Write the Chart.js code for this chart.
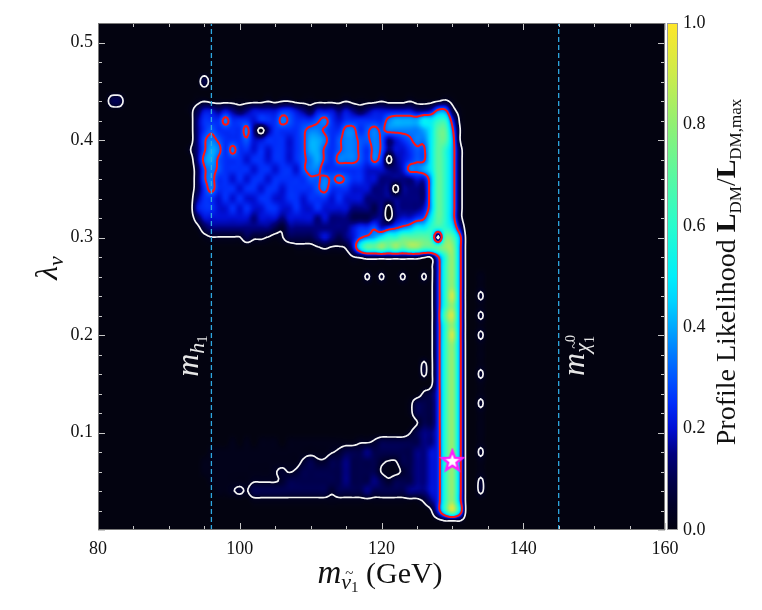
<!DOCTYPE html>
<html>
<head>
<meta charset="utf-8">
<title>Profile likelihood</title>
<script src="https://cdn.jsdelivr.net/npm/chart.js@4.4.1/dist/chart.umd.min.js"></script>
<style>
  html, body { margin: 0; padding: 0; background: #fff; }
  canvas { display: block; }
</style>
</head>
<body>
<canvas id="plot" width="762" height="610"></canvas>
<script>
// ---- axes ----
const xRange = [80, 160];
const yRange = [0, 0.52];
const xTicks = [80, 100, 120, 140, 160];
const yTicks = [0.1, 0.2, 0.3, 0.4, 0.5];
const xMinorStep = 5;
const yMinorStep = 0.02;
const cbarTicks = [0.0, 0.2, 0.4, 0.6, 0.8, 1.0];

// ---- likelihood map ----
// columns: 80, 81, ... 140 GeV (rest is zero), rows: lambda = 0.52 down to 0.00
const gridX0 = 80, gridDx = 1, gridDy = 0.01;
const levelKeys = '0123456789abcdef';
const levelValues = [0, 0.02, 0.04, 0.06, 0.10, 0.15, 0.20, 0.25, 0.30, 0.35, 0.40, 0.50, 0.60, 0.70, 0.80, 0.90];
const likelihoodRows = [
  '0000000000 0000000000 0000000000 0000000000 0000000000 0000000000 0', // 0.52
  '0000000000 0000000000 0000000000 0000000000 0000000000 0000000000 0',
  '0000000000 0000000000 0000000000 0000000000 0000000000 0000000000 0', // 0.50
  '0000000000 0000000000 0000000000 0000000000 0000000000 0000000000 0',
  '0000000000 0000000000 0000000000 0000000000 0000000000 0000000000 0',
  '0000000000 0000000000 0000000000 0000000000 0000000000 0000000000 0',
  '0000000000 0000040000 0000000000 0000000000 0000000000 0000000000 0', // 0.46
  '0000000000 0000000000 0000000000 0000000000 0000000000 0000000000 0',
  '0044000000 0000121111 1111212211 1111121111 2111211123 1000000000 0', // 0.44
  '0000000000 0001466565 4566667765 4666565456 6666655699 4100000000 0',
  '0000000000 0000577797 7767779877 7897677777 79aaaabbcc 7200000000 0', // 0.42
  '0000000000 0000578777 7950577778 9987799789 899999abdd 9300000000 0',
  '0000000000 0000589877 7866777678 aa97899889 8567899bdd a300000000 0', // 0.40
  '0000000000 000258a979 7767677678 aa87899879 8566788bdc a400000000 0',
  '0000000000 000059a877 7677677678 9a87999879 7056788bdc a400000000 0', // 0.38
  '0000000000 0000489877 7767767768 9977777766 655699abdc a400000000 0',
  '0000000000 0000489776 7677677777 8898987766 5555566adc a400000000 0', // 0.36
  '0000000000 0000479777 6776776777 7897776665 5505555adc a400000000 0',
  '0000000000 0000577676 7667766776 7776766655 5555555adc a400000000 0', // 0.34
  '0000000000 0000677667 6766776676 6766665554 5055556adc a400000000 0',
  '0000000000 0000466666 6656665666 6565554445 5056678bdc a400000000 0', // 0.32
  '0000000000 0000145555 5555543555 5555556778 6789abbccc b600000000 0',
  '0000000000 0000012222 2433212444 456545689a bccddddc0d da00000000 0', // 0.30
  '0000000000 0000000000 0000000011 1232236bdd ededeeddde ea00000000 0',
  '0000000000 0000000000 0000000000 0000002344 444444338c ea00000000 0', // 0.28
  '0000000000 0000000000 0000000000 0000000000 000000017c ea00000000 0',
  '0000000000 0000000000 0000000000 0000000030 300300317c ea00100000 0', // 0.26
  '0000000000 0000000000 0000000000 0000000000 000000017c ea00100000 0',
  '0000000000 0000000000 0000000000 0000000000 000000017c fa00300000 0', // 0.24
  '0000000000 0000000000 0000000000 0000000000 000000017c ea00100000 0',
  '0000000000 0000000000 0000000000 0000000000 000000017d fa00300000 0', // 0.22
  '0000000000 0000000000 0000000000 0000000000 000000017c ea00100000 0',
  '0000000000 0000000000 0000000000 0000000000 000000017c fa00300000 0', // 0.20
  '0000000000 0000000000 0000000000 0000000000 000000017c ea00100000 0',
  '0000000000 0000000000 0000000000 0000000000 000000017c ea00100000 0', // 0.18
  '0000000000 0000000000 0000000000 0000000000 000000317c ea00100000 0',
  '0000000000 0000000000 0000000000 0000000000 000000317c ea00300000 0', // 0.16
  '0000000000 0000000000 0000000000 0000000000 000000017c ea00100000 0',
  '0000000000 0000000000 0000000000 0000000000 000000347c ea00100000 0', // 0.14
  '0000000000 0000000000 0000000000 0000000000 000014447c ea00300000 0',
  '0000000000 0000000000 0000000000 0000000000 000014447c ea00100000 0', // 0.12
  '0000000000 0000000000 0000000000 0000000000 000002447c ea00100000 0',
  '0000000000 0000000000 0000000000 0000000000 000024557c ea00100000 0', // 0.10
  '0000000000 0000000001 0101110111 1111111223 444444557c ea00100000 0',
  '0000000000 0000001111 1111111111 1112344454 444445567c ea00300000 0', // 0.08
  '0000000000 0000011111 1111111113 4334454444 322445567c ea00100000 0',
  '0000000000 0000011111 1111123234 4444454444 211345567c ea00100000 0', // 0.06
  '0000000000 0000001111 1122223444 4444454445 434445567c ea00300000 0',
  '0000000000 0000000112 3244444444 4443444454 444455567c ea00300000 0', // 0.04
  '0000000000 0000000000 0011111111 1111111111 111111357c ea00000000 0',
  '0000000000 0000000000 0000000000 0000000000 000000027c fb00000000 0', // 0.02
  '0000000000 0000000000 0000000000 0000000000 0000000013 3300000000 0',
  '0000000000 0000000000 0000000000 0000000000 0000000000 0000000000 0'  // 0.00
];

const contourLevels = [0.0455, 0.3166];   // 2 sigma (white), 1 sigma (red)
const markerMasses = [96, 145];            // m_h1 and m_chi1
const bestFit = [{ x: 130, y: 0.071 }];

// ---- build grid (row 0 = lambda 0) ----
const nCols = Math.round((xRange[1] - xRange[0]) / gridDx) + 1;
const grid = likelihoodRows.slice().reverse().map(r => {
  const s = r.replace(/ /g, '').padEnd(nCols, '0');
  return Array.from(s, ch => levelValues[levelKeys.indexOf(ch)]);
});
const nRows = grid.length;

// smooth display grid: Catmull-Rom resampling of the read-off grid
const SUB = 4;
function crWeights(t) {
  const t2 = t * t, t3 = t2 * t;
  return [(-t3 + 2 * t2 - t) / 2, (3 * t3 - 5 * t2 + 2) / 2, (-3 * t3 + 4 * t2 + t) / 2, (t3 - t2) / 2];
}
const cell = (j, i) => grid[Math.max(0, Math.min(nRows - 1, j))][Math.max(0, Math.min(nCols - 1, i))];
const fCols = (nCols - 1) * SUB + 1, fRows = (nRows - 1) * SUB + 1;
const fine = [];
for (let fj = 0; fj < fRows; fj++) {
  const j = Math.floor(fj / SUB), ty = (fj % SUB) / SUB, wy = crWeights(ty);
  const row = new Float32Array(fCols);
  for (let fi = 0; fi < fCols; fi++) {
    const i = Math.floor(fi / SUB), tx = (fi % SUB) / SUB, wx = crWeights(tx);
    let s = 0;
    for (let m = 0; m < 4; m++) {
      let r = 0;
      for (let n = 0; n < 4; n++) r += wx[n] * cell(j - 1 + m, i - 1 + n);
      s += wy[m] * r;
    }
    row[fi] = Math.max(0, Math.min(1, s));
  }
  fine.push(row);
}
const fDx = gridDx / SUB, fDy = gridDy / SUB;

function sample(xv, yv) {
  let fx = (xv - gridX0) / fDx, fy = yv / fDy;
  fx = Math.max(0, Math.min(fCols - 1.0001, fx));
  fy = Math.max(0, Math.min(fRows - 1.0001, fy));
  const i = Math.floor(fx), j = Math.floor(fy), tx = fx - i, ty = fy - j;
  const a = fine[j][i], b = fine[j][i + 1], c = fine[j + 1][i], d = fine[j + 1][i + 1];
  return (a * (1 - tx) + b * tx) * (1 - ty) + (c * (1 - tx) + d * tx) * ty;
}

// colour map, black -> blue -> cyan -> green -> yellow
const cmap = [
  [0.00, [3, 3, 16]], [0.05, [0, 0, 40]], [0.10, [0, 0, 76]], [0.15, [0, 0, 126]],
  [0.20, [0, 15, 212]], [0.25, [0, 45, 250]], [0.30, [0, 85, 255]], [0.35, [0, 125, 255]],
  [0.40, [0, 168, 255]], [0.45, [0, 210, 255]], [0.50, [0, 238, 250]], [0.60, [40, 252, 205]],
  [0.70, [90, 248, 160]], [0.80, [145, 240, 115]], [0.90, [205, 235, 75]], [1.00, [255, 230, 40]]
];
function colorAt(v) {
  v = Math.max(0, Math.min(1, v));
  for (let k = 1; k < cmap.length; k++) {
    if (v <= cmap[k][0]) {
      const [v0, c0] = cmap[k - 1], [v1, c1] = cmap[k];
      const t = (v - v0) / (v1 - v0);
      return [0, 1, 2].map(n => Math.round(c0[n] + t * (c1[n] - c0[n])));
    }
  }
  return cmap[cmap.length - 1][1];
}

// marching squares on the display grid
function contourSegments(level) {
  const segs = [];
  for (let j = 0; j < fRows - 1; j++) {
    for (let i = 0; i < fCols - 1; i++) {
      const v = [fine[j][i], fine[j][i + 1], fine[j + 1][i + 1], fine[j + 1][i]];
      const p = [[i, j], [i + 1, j], [i + 1, j + 1], [i, j + 1]];
      const cross = [];
      for (let e = 0; e < 4; e++) {
        const a = v[e], b = v[(e + 1) % 4];
        if ((a < level) !== (b < level)) {
          const t = (level - a) / (b - a), q0 = p[e], q1 = p[(e + 1) % 4];
          cross.push([q0[0] + t * (q1[0] - q0[0]), q0[1] + t * (q1[1] - q0[1])]);
        }
      }
      if (cross.length === 2) segs.push(cross);
      else if (cross.length === 4) {
        const centre = (v[0] + v[1] + v[2] + v[3]) / 4;
        if ((centre < level) === (v[0] < level)) { segs.push([cross[0], cross[1]], [cross[2], cross[3]]); }
        else { segs.push([cross[3], cross[0]], [cross[1], cross[2]]); }
      }
    }
  }
  return segs;
}

const SERIF = '"Liberation Serif", "DejaVu Serif", serif';

// parts: [text, font, dy, noAdvance, dx]
function mathText(ctx, parts, cx, cy, rotate, color) {
  ctx.save();
  ctx.translate(cx, cy);
  if (rotate) ctx.rotate(-Math.PI / 2);
  ctx.fillStyle = color;
  ctx.textBaseline = 'alphabetic';
  ctx.textAlign = 'left';
  let w = 0;
  parts.forEach(p => { ctx.font = p[1]; if (!p[3]) w += ctx.measureText(p[0]).width; });
  let x = -w / 2;
  parts.forEach(p => {
    ctx.font = p[1];
    ctx.fillText(p[0], x + (p[4] || 0), p[2]);
    if (!p[3]) x += ctx.measureText(p[0]).width;
  });
  ctx.restore();
}

function makeStar() {
  const c = document.createElement('canvas');
  c.width = 26; c.height = 26;
  const g = c.getContext('2d');
  g.beginPath();
  for (let k = 0; k < 10; k++) {
    const r = k % 2 ? 4.4 : 10.5;
    const ang = -Math.PI / 2 + k * Math.PI / 5;
    g.lineTo(13 + r * Math.cos(ang), 13.5 + r * Math.sin(ang));
  }
  g.closePath();
  g.fillStyle = '#ffffff';
  g.fill();
  g.lineWidth = 2.4;
  g.strokeStyle = '#ff1cff';
  g.stroke();
  return c;
}

const mapPlugin = {
  id: 'likelihoodMap',
  beforeDatasetsDraw(chart) {
    const { ctx, chartArea: a, scales: { x, y } } = chart;
    const w = Math.round(a.right - a.left), h = Math.round(a.bottom - a.top);
    const off = document.createElement('canvas');
    off.width = w; off.height = h;
    const octx = off.getContext('2d');
    const img = octx.createImageData(w, h);
    for (let py = 0; py < h; py++) {
      const yv = y.getValueForPixel(a.top + py + 0.5);
      for (let px = 0; px < w; px++) {
        const xv = x.getValueForPixel(a.left + px + 0.5);
        const c = colorAt(sample(xv, yv));
        const k = (py * w + px) * 4;
        img.data[k] = c[0]; img.data[k + 1] = c[1]; img.data[k + 2] = c[2]; img.data[k + 3] = 255;
      }
    }
    octx.putImageData(img, 0, 0);
    ctx.save();
    ctx.drawImage(off, a.left, a.top, w, h);
    ctx.beginPath();
    ctx.rect(a.left, a.top, a.right - a.left, a.bottom - a.top);
    ctx.clip();
    const toPx = q => [x.getPixelForValue(gridX0 + q[0] * fDx), y.getPixelForValue(q[1] * fDy)];
    [['#f4f4f4', 1.7], ['#ff1414', 2.0]].forEach((st, n) => {
      ctx.strokeStyle = st[0];
      ctx.lineWidth = st[1];
      ctx.lineCap = 'round';
      ctx.lineJoin = 'round';
      ctx.beginPath();
      contourSegments(contourLevels[n]).forEach(s => {
        const p0 = toPx(s[0]), p1 = toPx(s[1]);
        ctx.moveTo(p0[0], p0[1]);
        ctx.lineTo(p1[0], p1[1]);
      });
      ctx.stroke();
    });
    ctx.restore();
  },
  afterDatasetsDraw(chart) {
    const { ctx, chartArea: a, scales: { x, y } } = chart;
    ctx.save();
    ctx.strokeStyle = '#c8c8c8';
    ctx.lineWidth = 1;
    ctx.beginPath();
    for (let v = xRange[0]; v <= xRange[1] + 1e-9; v += xMinorStep) {
      const px = Math.round(x.getPixelForValue(v)) + 0.5;
      const len = xTicks.includes(v) ? 7 : 4;
      ctx.moveTo(px, a.bottom); ctx.lineTo(px, a.bottom - len);
      ctx.moveTo(px, a.top); ctx.lineTo(px, a.top + len);
    }
    for (let k = 0; k * yMinorStep <= yRange[1] + 1e-9; k++) {
      const v = k * yMinorStep;
      const py = Math.round(y.getPixelForValue(v)) + 0.5;
      const len = (k % 5 === 0) ? 7 : 4;
      ctx.moveTo(a.left, py); ctx.lineTo(a.left + len, py);
      ctx.moveTo(a.right, py); ctx.lineTo(a.right - len, py);
    }
    ctx.stroke();
    ctx.strokeStyle = '#7a7a7a';
    ctx.strokeRect(a.left + 0.5, a.top + 0.5, a.right - a.left - 1, a.bottom - a.top - 1);
    ctx.restore();
  },
  afterDraw(chart) {
    const { ctx, chartArea: a } = chart;
    // colour bar
    const cbL = a.right + 2, cbW = 11;
    const grad = ctx.createLinearGradient(0, a.bottom, 0, a.top);
    cmap.forEach(s => grad.addColorStop(s[0], 'rgb(' + s[1].join(',') + ')'));
    ctx.save();
    ctx.fillStyle = grad;
    ctx.fillRect(cbL, a.top, cbW, a.bottom - a.top);
    ctx.strokeStyle = '#9a9a9a';
    ctx.lineWidth = 1;
    ctx.strokeRect(cbL + 0.5, a.top + 0.5, cbW - 1, a.bottom - a.top - 1);
    ctx.fillStyle = '#111';
    ctx.font = '18px ' + SERIF;
    ctx.textBaseline = 'middle';
    ctx.textAlign = 'left';
    cbarTicks.forEach(v => {
      const py = a.bottom - v * (a.bottom - a.top);
      ctx.fillText(v.toFixed(1), cbL + cbW + 5, py);
    });
    ctx.restore();

    const it = s => 'italic ' + s + 'px ' + SERIF;
    const rm = s => s + 'px ' + SERIF;
    // x title
    mathText(ctx, [['m', it(33), 0], ['~', rm(15), -5, true, 4], ['ν', it(22), 6], ['1', rm(15), 9],
                   [' (GeV)', rm(30), 0]], 380, 583, false, '#111');
    // y title
    mathText(ctx, [['λ', it(32), 0], ['ν', it(22), 6]], 57, 268, true, '#111');
    // colour bar title
    mathText(ctx, [['Profile Likelihood ', rm(28), 0], ['L', 'bold ' + rm(28), 0], ['DM', rm(17), 6],
                   ['/', rm(28), 0], ['L', 'bold ' + rm(28), 0], ['DM,max', rm(17), 6]],
             735, 272, true, '#111');
    // marker labels
    mathText(ctx, [['m', it(32), 0], ['h', it(22), 6], ['1', rm(15), 9]], 198, 356, true, '#e6e6e6');
    mathText(ctx, [['m', it(32), 0], ['~', rm(15), -5, true, 4], ['χ', it(22), 5], ['0', rm(14), -9, true, 1],
                   ['1', rm(14), 10]], 584, 356, true, '#e6e6e6');
  }
};

const markerSets = markerMasses.map(m => ({
  type: 'line',
  data: [{ x: m, y: yRange[0] }, { x: m, y: yRange[1] }],
  borderColor: '#2ea8e2',
  borderWidth: 1.3,
  borderDash: [5, 3],
  pointRadius: 0,
  fill: false
}));

new Chart(document.getElementById('plot'), {
  type: 'scatter',
  data: {
    datasets: [
      ...markerSets,
      { data: bestFit, pointStyle: makeStar(), pointRadius: 10 }
    ]
  },
  options: {
    responsive: false,
    animation: false,
    layout: { padding: { left: 0, top: 23, right: 97, bottom: 0 } },
    plugins: { legend: { display: false }, tooltip: { enabled: false } },
    scales: {
      x: {
        type: 'linear', min: xRange[0], max: xRange[1],
        afterBuildTicks: s => { s.ticks = xTicks.map(v => ({ value: v })); },
        afterFit: s => { s.height = 80; },
        grid: { display: false, drawTicks: false },
        border: { display: false },
        ticks: { color: '#111', padding: 8, font: { family: SERIF, size: 18 }, maxRotation: 0 }
      },
      y: {
        type: 'linear', min: yRange[0], max: yRange[1],
        afterBuildTicks: s => { s.ticks = yTicks.map(v => ({ value: v })); },
        afterFit: s => { s.width = 98; },
        grid: { display: false, drawTicks: false },
        border: { display: false },
        ticks: { color: '#111', padding: 5, font: { family: SERIF, size: 18 }, callback: v => v.toFixed(1) }
      }
    }
  },
  plugins: [mapPlugin]
});
</script>
</body>
</html>
